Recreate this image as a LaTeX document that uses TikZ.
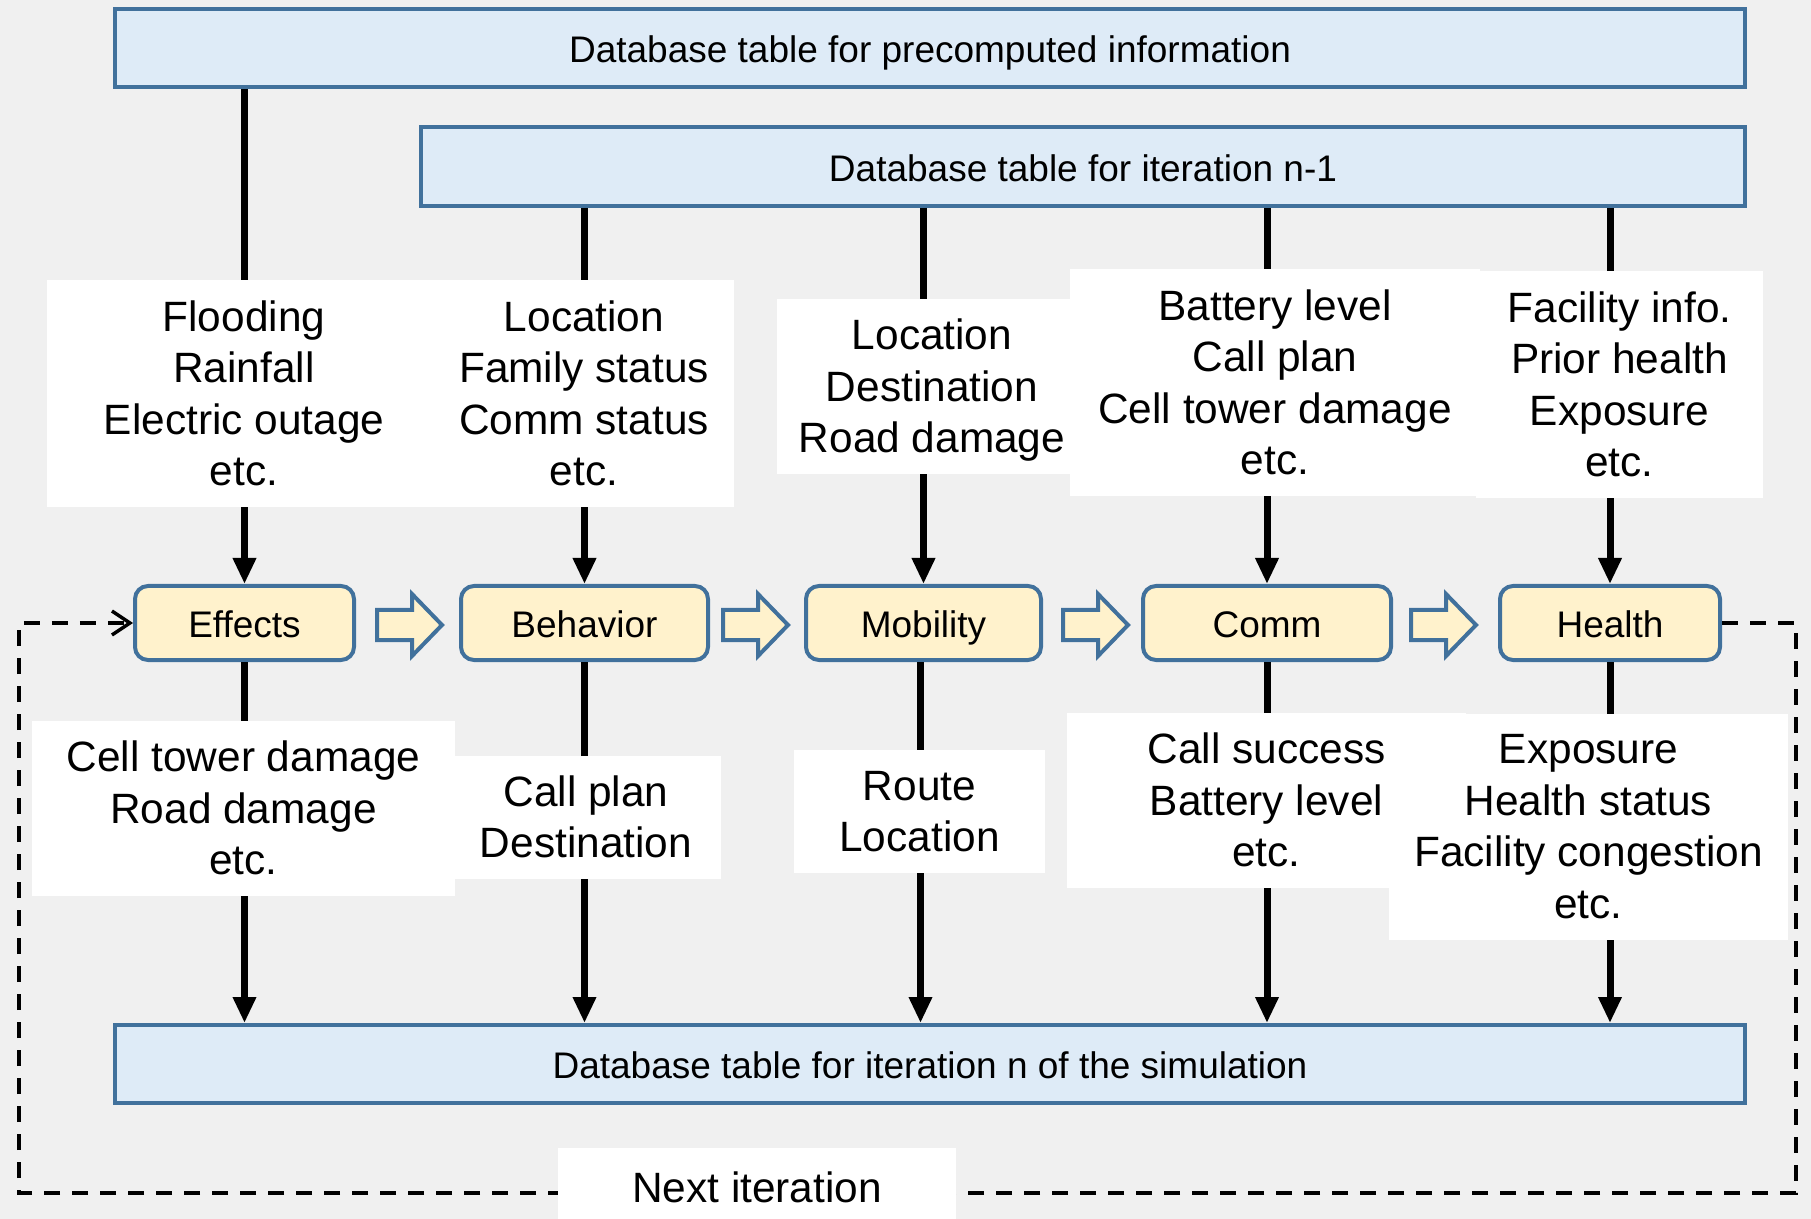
\documentclass[tikz,border=0pt]{standalone}
\usepackage{fontspec}
\setmainfont{Liberation Sans}
\usetikzlibrary{arrows.meta}
\definecolor{bg}{RGB}{240,240,240}
\definecolor{bord}{HTML}{41719C}
\definecolor{dbfill}{HTML}{DEEBF7}
\definecolor{modfill}{HTML}{FFF2CC}
\newcommand{\topstrut}{\rule{0pt}{0.905em}}
\newcommand{\botstrut}{\rule[-0.212em]{0pt}{0pt}}
\begin{document}
\begin{tikzpicture}[x=0.5pt,y=-0.5pt,
  dbbox/.style={draw=bord,fill=dbfill,line width=2pt,inner sep=0pt,font=\fontsize{18.5}{22}\selectfont,
    text height=16.74pt, text depth=1.85pt},
  module/.style={draw=bord,fill=modfill,line width=2pt,rounded corners=6.5pt,inner sep=0pt,minimum height=37pt,font=\fontsize{18.5}{22}\selectfont,
    text height=16.74pt, text depth=1.85pt},
  lbl/.style={fill=white,inner sep=0pt,align=center,font=\fontsize{21.2}{25.75}\selectfont,
    execute at end node=\botstrut},
  conn/.style={line width=3.5pt,-{Triangle[length=13pt,width=11pt]}},
  flowarrow/.style={draw=bord,fill=modfill,line width=2pt,miter limit=10},
  loopline/.style={line width=1.7pt,dash pattern=on 8pt off 6pt,-{Straight Barb[length=9pt,width=12pt,line width=1.7pt]}}]
\useasboundingbox (0,0) rectangle (1811,1219);
\fill[bg] (0,0) rectangle (1811,1219);

% database tables
\node[dbbox,minimum width=815pt,minimum height=39pt] (pre) at (930,48) {Database table for precomputed information};
\node[dbbox,minimum width=662pt,minimum height=39.5pt] (iter) at (1083,166.5) {Database table for iteration n-1};
\node[dbbox,minimum width=815pt,minimum height=39pt] (bottom) at (930,1064) {Database table for iteration n of the simulation};

% modules
\node[module,minimum width=109.5pt] (effects) at (244.5,623) {Effects};
\node[module,minimum width=123.5pt] (behavior) at (584.5,623) {Behavior};
\node[module,minimum width=117.5pt] (mobility) at (923.5,623) {Mobility};
\node[module,minimum width=124pt] (comm) at (1267,623) {Comm};
\node[module,minimum width=110pt] (health) at (1610,623) {Health};

% flow arrows between modules
\foreach \c in {409,755,1095,1443}{
  \draw[flowarrow] ({\c-32},610) -- ({\c+3},610) -- ({\c+3},594) -- ({\c+33},625)
     -- ({\c+3},656) -- ({\c+3},640) -- ({\c-32},640) -- cycle;
}

% connectors
\draw[conn] (pre.south -| effects.north) -- (effects.north);
\draw[conn] (iter.south -| behavior.north) -- (behavior.north);
\draw[conn] (iter.south -| mobility.north) -- (mobility.north);
\draw[conn] (iter.south -| comm.north) -- (comm.north);
\draw[conn] (iter.south -| health.north) -- (health.north);
\draw[conn] (effects.south) -- (effects.south |- bottom.north);
\draw[conn] (behavior.south) -- (behavior.south |- bottom.north);
\draw[conn] ([xshift=-1.5pt]mobility.south) -- ([xshift=-1.5pt]mobility.south |- bottom.north);
\draw[conn] (comm.south) -- (comm.south |- bottom.north);
\draw[conn] (health.south) -- (health.south |- bottom.north);

% dashed feedback loop
\coordinate (lr) at (1796,1193);
\coordinate (ll) at (19,1193);
\draw[loopline] (health.east) -| (lr) -- (ll) |- (effects.west);

% upper labels
\node[lbl,minimum width=197pt,minimum height=113.5pt] (lflood) at (244,394) {\topstrut Flooding\\Rainfall\\Electric outage\\etc.};
\node[lbl,minimum width=150pt,minimum height=113.5pt] (lbeh) at (584,394) {\topstrut Location\\Family status\\Comm status\\etc.};
\node[lbl,minimum width=155pt,minimum height=87.5pt] (lmob) at (932,386.5) {\topstrut Location\\Destination\\Road damage};
\node[lbl,minimum width=205pt,minimum height=113.5pt] (lcomm) at (1275,383) {\topstrut Battery level\\Call plan\\Cell tower damage\\etc.};
\node[lbl,minimum width=143.5pt,minimum height=113.5pt] (lhea) at (1619.5,385) {\topstrut Facility info.\\Prior health\\Exposure\\etc.};

% lower labels
\node[lbl,minimum width=211.5pt,minimum height=87.5pt] (leff2) at (243.5,808.5) {\topstrut Cell tower damage\\Road damage\\etc.};
\node[lbl,minimum width=135pt,minimum height=61.5pt] (lbeh2) at (586,817.5) {\topstrut Call plan\\Destination};
\node[lbl,minimum width=125.5pt,minimum height=61.5pt] (lmob2) at (919.5,811.5) {\topstrut Route\\Location};
\node[lbl,minimum width=199.5pt,minimum height=87.5pt] (lcomm2) at (1266.5,800.5) {\topstrut Call success\\Battery level\\etc.};
\node[lbl,minimum width=199.5pt,minimum height=113pt] (lhea2) at (1588.5,826.5) {\topstrut Exposure\\Health status\\Facility congestion\\etc.};

% loop label
\node[lbl,minimum width=199pt,minimum height=40pt] (nextit) at (757,1188) {\topstrut Next iteration};
\end{tikzpicture}
\end{document}
